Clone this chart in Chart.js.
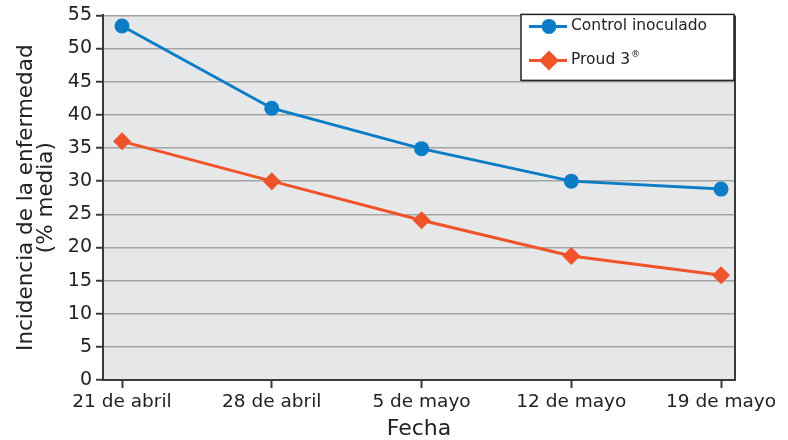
<!DOCTYPE html>
<html>
<head>
<meta charset="utf-8">
<script src="https://cdn.jsdelivr.net/npm/chart.js@4"></script>
<style>
  html, body { margin: 0; padding: 0; background: #fff; }
  #wrap { width: 788px; height: 440px; position: relative; }
</style>
</head>
<body>
<div id="wrap"><canvas id="chart"></canvas></div>
<script>
// Chart data
const fechas = ['21 de abril', '28 de abril', '5 de mayo', '12 de mayo', '19 de mayo'];
const controlInoculado = [53.4, 41.0, 34.9, 30.0, 28.8];
const proud3 = [36.0, 30.0, 24.1, 18.7, 15.8];
const yTicks = [0, 5, 10, 15, 20, 25, 30, 35, 40, 45, 50, 55];

const FONT = "'DejaVu Sans', sans-serif";
const AXIS = '#3a3a3a';

function toPoints(values){
  return values.map((v, i) => ({x: i, y: v}));
}

// plot background + right border
const plotFrame = {
  id: 'plotFrame',
  beforeDraw(chart){
    const {ctx, chartArea: a} = chart;
    ctx.save();
    ctx.fillStyle = '#e6e7e8';
    ctx.fillRect(a.left, a.top, a.right - a.left, a.bottom - a.top);
    ctx.restore();
  },
  afterDatasetsDraw(chart){
    const {ctx, chartArea: a} = chart;
    ctx.save();
    ctx.strokeStyle = AXIS;
    ctx.lineWidth = 2;
    ctx.beginPath();
    ctx.moveTo(a.right, a.top);
    ctx.lineTo(a.right, a.bottom + 1);
    ctx.stroke();
    ctx.restore();
  }
};

// boxed legend top right
const boxLegend = {
  id: 'boxLegend',
  afterDraw(chart){
    const {ctx, chartArea: a} = chart;
    const w = 213, h = 66;
    const x0 = a.right - 1 - w, y0 = a.top - 1;
    ctx.save();
    ctx.fillStyle = '#fff';
    ctx.fillRect(x0, y0, w, h);
    ctx.strokeStyle = '#222';
    ctx.lineWidth = 1.5;
    ctx.strokeRect(x0, y0, w, h);
    chart.data.datasets.forEach((ds, i) => {
      const y = y0 + 12 + i * 34;
      const lx = x0 + 8;
      ctx.strokeStyle = ds.borderColor;
      ctx.lineWidth = 3;
      ctx.beginPath();
      ctx.moveTo(lx, y); ctx.lineTo(lx + 38, y);
      ctx.stroke();
      const cx = lx + 20;
      ctx.fillStyle = ds.pointBackgroundColor;
      ctx.beginPath();
      if(ds.pointStyle === 'rectRot'){
        const r = ds.pointRadius + 1;
        ctx.moveTo(cx - r, y); ctx.lineTo(cx, y - r); ctx.lineTo(cx + r, y); ctx.lineTo(cx, y + r);
        ctx.closePath();
      } else {
        ctx.arc(cx, y, ds.pointRadius, 0, Math.PI * 2);
      }
      ctx.fill();
      ctx.fillStyle = '#222';
      ctx.textBaseline = 'middle';
      ctx.textAlign = 'left';
      ctx.font = '15.5px ' + FONT;
      const tx = lx + 42;
      if(ds.label.endsWith('®')){
        const base = ds.label.slice(0, -1);
        ctx.fillText(base, tx, y);
        const bw = ctx.measureText(base).width;
        ctx.font = '9px ' + FONT;
        ctx.fillText('®', tx + bw + 1, y - 6);
      } else {
        ctx.fillText(ds.label, tx, y);
      }
    });
    ctx.restore();
  }
};

new Chart(document.getElementById('chart'), {
  type: 'line',
  data: {
    datasets: [
      {
        label: 'Control inoculado',
        data: toPoints(controlInoculado),
        borderColor: '#0b7dc7',
        backgroundColor: '#0b7dc7',
        pointBackgroundColor: '#0b7dc7',
        pointBorderWidth: 0,
        pointStyle: 'circle',
        pointRadius: 7.5,
        borderWidth: 3,
        tension: 0
      },
      {
        label: 'Proud 3®',
        data: toPoints(proud3),
        borderColor: '#f0522a',
        backgroundColor: '#f0522a',
        pointBackgroundColor: '#f0522a',
        pointBorderWidth: 0,
        pointStyle: 'rectRot',
        pointRadius: 9,
        borderWidth: 3,
        tension: 0
      }
    ]
  },
  options: {
    responsive: true,
    maintainAspectRatio: false,
    animation: false,
    layout: { padding: { left: 0, right: 53, top: 14, bottom: 0 } },
    plugins: {
      legend: { display: false },
      tooltip: { enabled: false }
    },
    scales: {
      x: {
        type: 'linear',
        min: -0.127,
        max: 4.093,
        afterFit(scale){ scale.height = 60; },
        afterBuildTicks(scale){ scale.ticks = fechas.map((f, i) => ({value: i})); },
        ticks: {
          includeBounds: false,
          stepSize: 1,
          color: '#222',
          font: { family: FONT, size: 18.5 },
          padding: 3,
          maxRotation: 0,
          autoSkip: false,
          callback: (v) => fechas[v]
        },
        grid: { drawOnChartArea: false, tickLength: 8, tickColor: AXIS, tickWidth: 2 },
        border: { color: AXIS, width: 2 },
        title: {
          display: true,
          text: 'Fecha',
          color: '#222',
          font: { family: FONT, size: 22, lineHeight: 1 },
          padding: { top: 0, bottom: 0 }
        }
      },
      y: {
        min: 0,
        max: 55,
        afterFit(scale){ scale.width = 103; },
        afterBuildTicks(scale){ scale.ticks = yTicks.map(v => ({value: v})); },
        ticks: {
          color: '#222',
          font: { family: FONT, size: 19 },
          padding: 4
        },
        grid: { color: '#a4a4a4', lineWidth: 1.5, tickLength: 7, tickColor: AXIS, tickWidth: 2 },
        border: { color: AXIS, width: 2 },
        title: {
          display: true,
          text: ['Incidencia de la enfermedad', '(% media)'],
          color: '#222',
          font: { family: FONT, size: 21.5, lineHeight: 0.95 },
          padding: { top: 16, bottom: 0 }
        }
      }
    }
  },
  plugins: [plotFrame, boxLegend]
});
</script>
</body>
</html>
